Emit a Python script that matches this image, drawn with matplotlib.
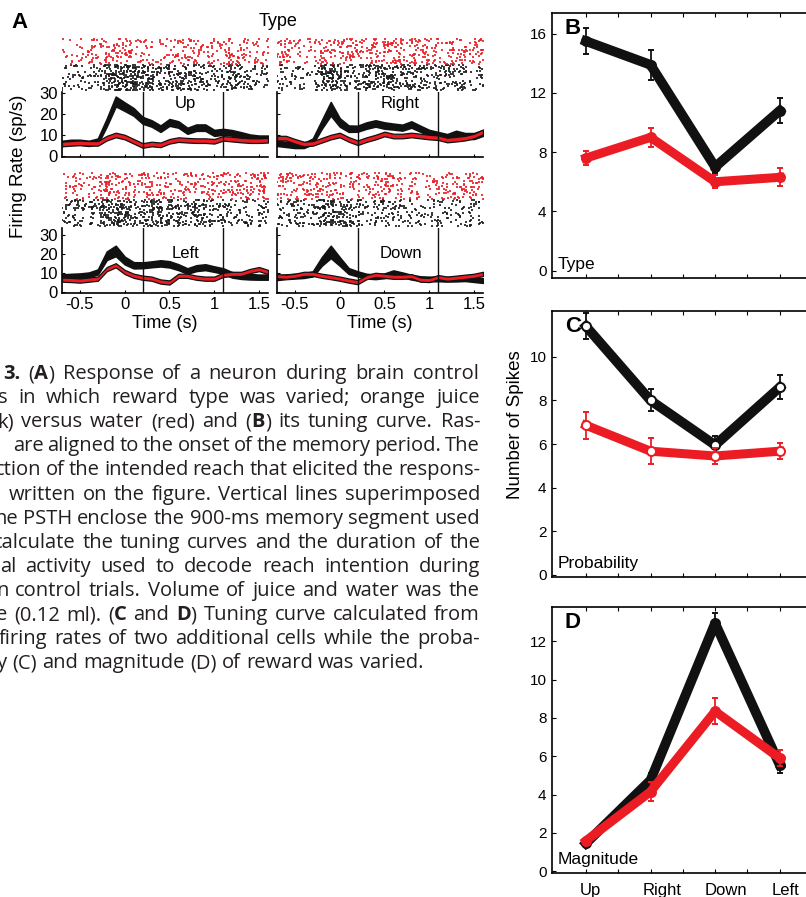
import matplotlib
matplotlib.use("Agg")
import matplotlib.pyplot as plt
import matplotlib.transforms as mtransforms
import numpy as np

W, H = 806, 897
RED = "#ec1c24"
BLACK = "#111111"
CAPTION_FONT = ["Open Sans", "Noto Sans", "DejaVu Sans"]

plt.rcParams.update({
    "font.family": ["Liberation Sans", "DejaVu Sans"],
    "axes.unicode_minus": False,
    "axes.linewidth": 1.2,
})

# ── Panel A: PSTHs (mean firing rate, sp/s) ──────────────────────────────────
PSTH_T = [-0.7, -0.6, -0.5, -0.4, -0.3, -0.2, -0.1, 0.0, 0.1, 0.2, 0.3, 0.4,
          0.5, 0.6, 0.7, 0.8, 0.9, 1.0, 1.1, 1.2, 1.3, 1.4, 1.5, 1.6]
MEMORY_WINDOW = [0.2, 1.1]

UP_BLACK = [6, 6.5, 6.5, 6, 7, 16, 26, 23.5, 21, 17, 15.5, 13, 16, 15, 12, 13.5,
            13.5, 11, 11.5, 11, 10, 9, 8.5, 8.5]
UP_BLACK_SEM = [1.2, 1.2, 1.2, 1.2, 1.3, 1.8, 2.3, 2.0, 1.8, 1.6, 1.5, 1.5,
                1.6, 1.5, 1.4, 1.5, 1.5, 1.4, 1.4, 1.3, 1.3, 1.2, 1.2, 1.2]
UP_RED = [5.7, 6, 6.3, 6, 6, 8.5, 10, 9, 7, 5, 5.7, 5.3, 7, 7.8, 7.5, 7.3, 7.3,
          7, 8.4, 8, 7.6, 7.3, 7.3, 7.5]

RIGHT_BLACK = [6, 5.5, 5, 5, 7, 15, 22.5, 16, 13, 13, 14.5, 15.5, 14.5, 14,
               13.5, 15, 13, 11, 10, 9, 10.5, 9.5, 9.5, 11]
RIGHT_BLACK_SEM = [1.2, 1.2, 1.2, 1.2, 1.3, 2.0, 3.2, 2.0, 1.5, 1.4, 1.5, 1.5,
                   1.5, 1.4, 1.4, 1.5, 1.4, 1.4, 1.4, 1.4, 1.5, 1.4, 1.4, 1.4]
RIGHT_RED = [8.5, 8.5, 7, 5.7, 6, 7.5, 9, 10, 7.9, 6.3, 7.8, 9, 10.5, 9.5, 9.5,
             10, 9.5, 9, 8.7, 7.6, 8, 8.5, 9.5, 11.5]

LEFT_BLACK = [8, 8.3, 8.5, 9, 10.5, 19, 21.5, 16.5, 14, 14, 14.5, 15, 14.5, 13,
              11, 12.5, 13, 12, 11, 9, 8.3, 8, 7.8, 7.8]
LEFT_BLACK_SEM = [1.2, 1.2, 1.2, 1.2, 1.3, 2.2, 2.7, 2.0, 1.6, 1.5, 1.5, 1.6,
                  1.6, 1.5, 1.4, 1.5, 1.5, 1.4, 1.4, 1.4, 1.4, 1.4, 1.3, 1.3]
LEFT_RED = [6.5, 6.3, 6, 6.5, 7, 12, 14, 10.5, 8.5, 7.5, 7, 5.5, 5, 8.5, 8.5,
            7.5, 7, 7, 9, 9.5, 9.5, 11, 12, 10.5]

DOWN_BLACK = [7.5, 8, 8.3, 8.6, 9.5, 16, 21, 16, 11, 9.5, 8.3, 8, 8.5, 10, 9,
              7.8, 7, 6.8, 6.9, 6.7, 6.8, 7, 6.5, 6]
DOWN_BLACK_SEM = [1.2, 1.2, 1.2, 1.2, 1.3, 2.2, 3.2, 2.2, 1.5, 1.3, 1.2, 1.2,
                  1.2, 1.3, 1.2, 1.2, 1.2, 1.2, 1.2, 1.2, 1.2, 1.2, 1.2, 1.2]
DOWN_RED = [8.3, 8, 8.5, 9.5, 9.5, 8.5, 7.8, 7, 6, 5.2, 7.8, 9, 8.5, 8, 8, 8.3,
            6.5, 6.3, 7.8, 7, 7.5, 8, 8.5, 9.5]
RED_SEM = 1.1

PANEL_NAMES = ["Up", "Right", "Left", "Down"]
PANEL_BLACK = [UP_BLACK, RIGHT_BLACK, LEFT_BLACK, DOWN_BLACK]
PANEL_BLACK_SEM = [UP_BLACK_SEM, RIGHT_BLACK_SEM, LEFT_BLACK_SEM, DOWN_BLACK_SEM]
PANEL_RED = [UP_RED, RIGHT_RED, LEFT_RED, DOWN_RED]
N_TRIALS = 24

# ── Panels B-D: tuning curves (number of spikes) ─────────────────────────────
DIRECTIONS = ["Up", "Right", "Down", "Left"]
B_BLACK = [15.5, 13.9, 7.0, 10.8]
B_BLACK_ERR = [0.9, 1.0, 0.4, 0.85]
B_RED = [7.6, 9.0, 6.0, 6.3]
B_RED_ERR = [0.5, 0.65, 0.45, 0.6]
C_BLACK = [11.4, 8.0, 5.95, 8.6]
C_BLACK_ERR = [0.6, 0.5, 0.4, 0.55]
C_RED = [6.86, 5.67, 5.45, 5.67]
C_RED_ERR = [0.62, 0.6, 0.35, 0.38]
D_BLACK = [1.45, 4.75, 12.95, 5.55]
D_BLACK_ERR = [0.1, 0.4, 0.55, 0.45]
D_RED = [1.58, 4.15, 8.35, 5.9]
D_RED_ERR = [0.08, 0.5, 0.68, 0.42]

CAPTION_LINES = [
    "*3.* (*A*) Response of a neuron during brain control",
    "s in which reward type was varied; orange juice",
    "k) versus water (red) and (*B*) its tuning curve. Ras-",
    "are aligned to the onset of the memory period. The",
    "ction of the intended reach that elicited the respons-",
    "written on the figure. Vertical lines superimposed",
    "he PSTH enclose the 900-ms memory segment used",
    "calculate the tuning curves and the duration of the",
    "al activity used to decode reach intention during",
    "n control trials. Volume of juice and water was the",
    "e (0.12 ml). (*C* and *D*) Tuning curve calculated from",
    "firing rates of two additional cells while the proba-",
    "y (C) and magnitude (D) of reward was varied.",
]
CAPTION_X0 = [3, -2, -3, 13, -5, 9, -6, -7, 0, -4, -4, -1, -3]

fig = plt.figure(figsize=(W / 100, H / 100), dpi=100)


def px_axes(l, t, r, b):
    return fig.add_axes([l / W, 1 - b / H, (r - l) / W, (b - t) / H])


def px_text(x, y, s, **kw):
    return fig.text(x / W, 1 - y / H, s, **kw)


# ── Panel A ──────────────────────────────────────────────────────────────────
COLS = [(62, 268), (277, 483)]
ROWS = [((38, 91), (92, 157), 30.5), ((172, 227), (228, 293), 33.5)]
t_fine = np.linspace(-0.7, 1.6, 231)
bins = np.arange(t_fine.size)

for i, name in enumerate(PANEL_NAMES):
    (xl, xr) = COLS[i % 2]
    (rt, rb), (pt, pb), ytop = ROWS[i // 2]

    # raster: hashed dithering of each PSTH, red trials above black
    axr = px_axes(xl, rt, xr, rb)
    for rate, color, base in [(PANEL_BLACK[i], "#1a1a1a", 0),
                              (PANEL_RED[i], RED, N_TRIALS)]:
        p = np.interp(t_fine, PSTH_T, rate) * 0.01 * 0.85
        xs, ys = [], []
        for k in range(N_TRIALS):
            seed = bins * 12.9898 + (base + k) * 78.233 + i * 37.719
            u = np.mod(np.sin(seed) * 43758.5453, 1.0)
            hit = u < p
            xs.append(t_fine[hit])
            ys.append(np.full(hit.sum(), base + k))
        axr.scatter(np.concatenate(xs), np.concatenate(ys), s=0.9, marker="s",
                    color=color, linewidths=0, alpha=0.85)
    axr.set_xlim(-0.7, 1.6)
    axr.set_ylim(-0.5, 2 * N_TRIALS - 0.5)
    axr.axis("off")

    # PSTH
    ax = px_axes(xl, pt, xr, pb)
    b = np.array(PANEL_BLACK[i])
    s = np.array(PANEL_BLACK_SEM[i])
    r = np.array(PANEL_RED[i])
    ax.fill_between(PSTH_T, b - s, b + s, facecolor=BLACK, edgecolor=BLACK,
                    linewidth=1.2, joinstyle="round", zorder=2)
    ax.fill_between(PSTH_T, r - RED_SEM, r + RED_SEM, facecolor=RED,
                    edgecolor=BLACK, linewidth=0.9, joinstyle="round", zorder=3)
    for tv in MEMORY_WINDOW:
        ax.axvline(tv, color=BLACK, lw=1.0, zorder=4)
    ax.set_xlim(-0.7, 1.6)
    ax.set_ylim(-0.5, ytop)
    ax.set_yticks([0, 10, 20, 30])
    ax.set_xticks([-0.5, 0, 0.5, 1, 1.5])
    ax.spines["top"].set_visible(False)
    ax.spines["right"].set_visible(False)
    ax.tick_params(direction="in", length=2.5, width=0.8, labelsize=12, pad=3)
    if i % 2 == 1:
        ax.set_yticklabels([])
    if i // 2 == 0:
        ax.set_xticklabels([])
    else:
        ax.set_xticklabels(["-0.5", "0", "0.5", "1", "1.5"])
        ax.set_xlabel("Time (s)", fontsize=13, labelpad=2)
    ax.text(0.6, 0.82 if i < 2 else 0.6, name, transform=ax.transAxes,
            fontsize=12, ha="center", va="center")

px_text(20, 22, "A", fontsize=16, fontweight="bold", ha="center", va="center")
px_text(278, 22, "Type", fontsize=13, ha="center", va="center")
px_text(19, 166, "Firing Rate (sp/s)", fontsize=13.5, rotation=90,
        ha="center", va="center")

# ── Panels B-D ───────────────────────────────────────────────────────────────
TUNING = [
    ("B", "Type", (13, 278), (-0.5, 17.4), [0, 4, 8, 12, 16],
     B_BLACK, B_BLACK_ERR, B_RED, B_RED_ERR, True),
    ("C", "Probability", (311, 577), (-0.1, 12.1), [0, 2, 4, 6, 8, 10],
     C_BLACK, C_BLACK_ERR, C_RED, C_RED_ERR, False),
    ("D", "Magnitude", (607, 873), (-0.1, 13.8), [0, 2, 4, 6, 8, 10, 12],
     D_BLACK, D_BLACK_ERR, D_RED, D_RED_ERR, True),
]
LABEL_SHIFT_PX = [4, 12, 11, 6]   # category labels sit a little right of the ticks
x = np.arange(1, len(DIRECTIONS) + 1)
for letter, label, (top, bot), ylim, yticks, kb, kbe, kr, kre, filled in TUNING:
    ax = px_axes(552, top, 812, bot)
    for vals, errs, color, lw, z in [(kb, kbe, BLACK, 7, 3), (kr, kre, RED, 6.5, 4)]:
        ax.errorbar(x, vals, yerr=errs, color=color, lw=lw, elinewidth=1.3,
                    capsize=2, capthick=1.3, marker="o", ms=6.5,
                    mfc=color if filled else "white", mec=color, mew=1.4,
                    zorder=z)
    ax.set_xlim(0.475, 4.5)
    ax.set_ylim(*ylim)
    ax.set_yticks(yticks)
    ax.set_xticks(x)
    ax.set_xticks([1.5, 2.5, 3.5], minor=True)
    ax.tick_params(which="both", direction="in", top=True, right=True,
                   length=3, width=0.8, labelsize=11, pad=4)
    if letter == "D":
        ax.set_xticklabels(DIRECTIONS, fontsize=12)
        ax.tick_params(axis="x", pad=7)
        for lab, dx in zip(ax.get_xticklabels(), LABEL_SHIFT_PX):
            lab.set_transform(lab.get_transform() + mtransforms.ScaledTranslation(
                dx / 100, 0, fig.dpi_scale_trans))
    else:
        ax.set_xticklabels([])
    ax.text(0.05, 0.94, letter, transform=ax.transAxes, fontsize=16,
            fontweight="bold", ha="left", va="center")
    ax.text(0.02, 0.05, label, transform=ax.transAxes, fontsize=12.5,
            ha="left", va="center")

px_text(515, 425, "Number of Spikes", fontsize=13.5, rotation=90,
        ha="center", va="center")

# ── Caption (justified, cut off at the left edge) ────────────────────────────
renderer = fig.canvas.get_renderer()
CAP_SIZE = 14.5


def measure(s, bold, keep=True):
    t = fig.text(0, 0, s, fontsize=CAP_SIZE, family=CAPTION_FONT,
                 fontweight="bold" if bold else "normal", va="baseline",
                 color="#231f20")
    w = t.get_window_extent(renderer).width
    if not keep:
        t.remove()
    return t, w


space = measure("x x", False, False)[1] - measure("xx", False, False)[1]

X_RIGHT = 480
for n, line in enumerate(CAPTION_LINES):
    y = 379 + 24.1 * n
    words = []
    for w in line.split(" "):
        segs = []
        for j, part in enumerate(w.split("*")):
            if part:
                segs.append(measure(part, j % 2 == 1))
        words.append(segs)
    widths = [sum(wd for _, wd in segs) for segs in words]
    x0 = CAPTION_X0[n]
    if n < len(CAPTION_LINES) - 1:
        gap = (X_RIGHT - x0 - sum(widths)) / (len(words) - 1)
    else:
        gap = space
    cx = x0
    for segs, wd in zip(words, widths):
        sx = cx
        for t, sw in segs:
            t.set_position((sx / W, 1 - y / H))
            sx += sw
        cx += wd + gap

fig.savefig("out.png", dpi=100)
